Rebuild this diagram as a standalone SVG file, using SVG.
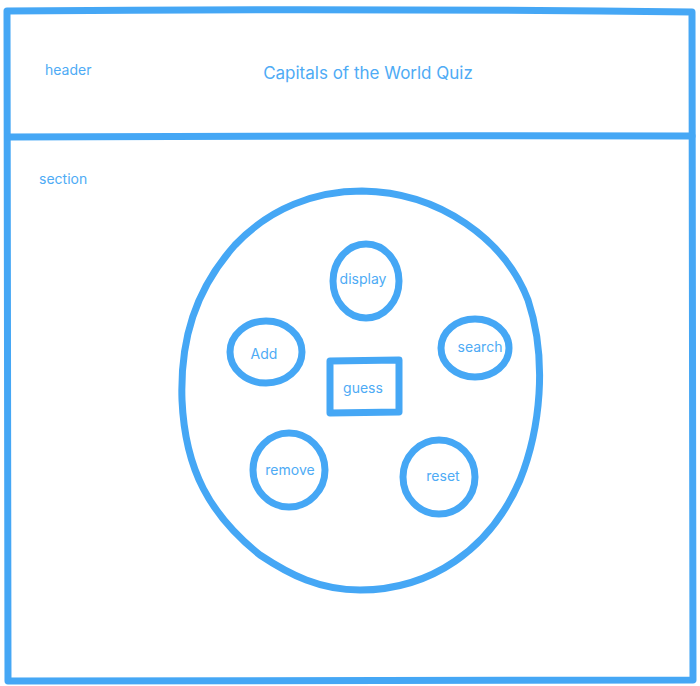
<svg xmlns="http://www.w3.org/2000/svg" width="700" height="686" viewBox="0 0 700 686">
<style>
.s{fill:none;stroke:#45a7f5;stroke-width:7;stroke-linecap:round;stroke-linejoin:round}
.t{font-family:Inter,"Noto Sans",sans-serif;fill:#4eabf5;dominant-baseline:middle}
.c{text-anchor:middle}
</style>
<rect width="700" height="686" fill="#fff"/>
<g id="frame">
<path class="s" d="M7,11 Q350,8 692,12 L693,680 Q350,682 8,681 Z"/>
</g>
<g id="header">
<path class="s" d="M8,137 Q350,135 692,136"/>
<text class="t" x="45" y="71" font-size="14">header</text>
<text class="t c" x="368" y="74" font-size="17">Capitals of the World Quiz</text>
</g>
<g id="section">
<text class="t" x="39" y="180" font-size="14">section</text>
<path class="s" d="M362,191 C440,192 505,240 528,300 C548,360 540,430 520,480 C490,550 430,590 360,590 C320,590 290,575 260,555 C210,515 185,470 182,400 C180,340 195,290 235,245 C270,208 315,191 362,191 Z"/>
</g>
<g id="display">
<ellipse class="s" cx="366" cy="281" rx="33" ry="37"/>
<text class="t c" x="363" y="280" font-size="14">display</text>
</g>
<g id="add">
<ellipse class="s" cx="266" cy="352" rx="36" ry="31"/>
<text class="t c" x="264" y="355" font-size="14">Add</text>
</g>
<g id="search">
<ellipse class="s" cx="475" cy="348" rx="34" ry="29"/>
<text class="t c" x="480" y="348" font-size="14">search</text>
</g>
<g id="guess">
<path class="s" d="M330,361 L399,360 L399,412 L330,413 Z"/>
<text class="t c" x="363" y="389" font-size="14">guess</text>
</g>
<g id="remove">
<ellipse class="s" cx="289" cy="470" rx="36" ry="37"/>
<text class="t c" x="290" y="471" font-size="14">remove</text>
</g>
<g id="reset">
<ellipse class="s" cx="439" cy="477" rx="36" ry="37"/>
<text class="t c" x="443" y="477" font-size="14">reset</text>
</g>
<g id="connectors"></g>
</svg>
